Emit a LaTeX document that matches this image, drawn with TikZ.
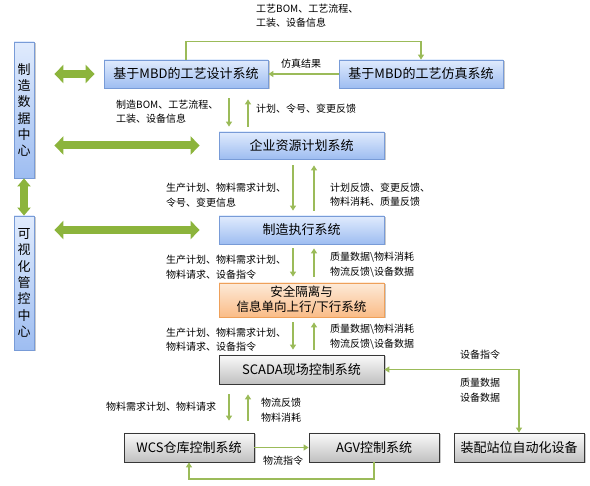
\documentclass[tikz,border=0pt]{standalone}
\usepackage{fontspec}
\setmainfont{Noto Sans CJK SC}
\usetikzlibrary{arrows.meta,shadows}
\definecolor{linegreen}{RGB}{155,187,89}
\definecolor{fatgreen}{RGB}{140,180,60}
\definecolor{bluetop}{RGB}{224,235,253}
\definecolor{bluebot}{RGB}{158,189,241}
\definecolor{blueedge}{RGB}{120,155,215}
\definecolor{orangetop}{RGB}{253,234,216}
\definecolor{orangebot}{RGB}{250,188,135}
\definecolor{orangeedge}{RGB}{238,160,90}
\definecolor{graytop}{RGB}{250,250,250}
\definecolor{graybot}{RGB}{192,192,192}
\definecolor{grayedge}{RGB}{55,55,55}
\tikzset{
  box/.style={line width=0.8pt, inner sep=0pt, align=center,
    font=\fontsize{13}{16}\selectfont,
    drop shadow={shadow xshift=1.5pt, shadow yshift=-1.5pt, opacity=0.35, fill=black!60}},
  bluebox/.style={box, draw=blueedge, top color=bluetop, bottom color=bluebot},
  orangebox/.style={box, draw=orangeedge, top color=orangetop, bottom color=orangebot},
  graybox/.style={box, draw=grayedge, top color=graytop, bottom color=graybot},
  lbl/.style={anchor=west, inner sep=0pt, align=left, font=\fontsize{10}{14.5}\selectfont},
  conn/.style={draw=linegreen, line width=1.8pt},
  fatH/.style={draw=fatgreen, line width=8pt,
    {Triangle[length=9pt,width=18pt]}-{Triangle[length=9pt,width=18pt]}},
  fatV/.style={draw=fatgreen, line width=8pt,
    {Triangle[length=8pt,width=13pt]}-{Triangle[length=8pt,width=13pt]}},
}
\begin{document}
\begin{tikzpicture}[x=1pt, y=-1pt, >={Triangle[width=6pt,length=5pt]}]
\useasboundingbox (0,0) rectangle (590,486);

% helper x positions
\coordinate (xa1) at (229,0);
\coordinate (xa2) at (248,0);
\coordinate (xb1) at (293,0);
\coordinate (xb2) at (314,0);

% boxes
\node[bluebox, minimum width=20pt, minimum height=136pt, font=\fontsize{13}{16.3}\selectfont] (dc) at (24,110) {制\\造\\数\\据\\中\\心};
\node[bluebox, minimum width=20pt, minimum height=134pt, font=\fontsize{13}{16.3}\selectfont] (vc) at (24,283) {可\\视\\化\\管\\控\\中\\心};
\node[bluebox, minimum width=164pt, minimum height=28pt] (design) at (186,74) {基于MBD的工艺设计系统};
\node[bluebox, minimum width=164pt, minimum height=28pt] (sim) at (421,74) {基于MBD的工艺仿真系统};
\node[bluebox, minimum width=165pt, minimum height=27pt] (erp) at (301.5,145.5) {企业资源计划系统};
\node[bluebox, minimum width=165pt, minimum height=28pt] (mes) at (301.5,230) {制造执行系统};
\node[orangebox, minimum width=165pt, minimum height=34pt, font=\fontsize{12.5}{15.5}\selectfont] (sec) at (301.5,300) {安全隔离与\\信息单向上行/下行系统};
\node[graybox, minimum width=165pt, minimum height=29pt] (scada) at (301.5,369.5) {SCADA现场控制系统};
\node[graybox, minimum width=130pt, minimum height=29pt] (wcs) at (189,447.5) {WCS仓库控制系统};
\node[graybox, minimum width=130pt, minimum height=29pt] (agv) at (374,447.5) {AGV控制系统};
\node[graybox, minimum width=130pt, minimum height=29pt] (equip) at (519,447.5) {装配站位自动化设备};

% fat double arrows
\draw[fatH, shorten <=20pt, shorten >=9pt] (dc.east |- design.west) -- (design.west);
\draw[fatH, shorten <=20pt, shorten >=19pt] (dc.east |- erp.west) -- (erp.west);
\draw[fatH, shorten <=20pt, shorten >=19pt] (vc.east |- mes.west) -- (mes.west);
\draw[fatV] (dc.south) -- (vc.north);

% design <-> sim
\draw[conn, ->] (design.north) -- ++(0,-18) -| (sim.north);
\draw[conn, ->] (sim.west) -- (design.east);

% design <-> erp
\draw[conn, ->, shorten <=10pt, shorten >=5pt] (design.south -| xa1) -- (erp.north -| xa1);
\draw[conn, ->, shorten <=5pt, shorten >=11pt] (erp.north -| xa2) -- (design.south -| xa2);
% erp <-> mes
\draw[conn, ->, shorten <=6pt, shorten >=5pt] (erp.south -| xb1) -- (mes.north -| xb1);
\draw[conn, ->, shorten <=5pt, shorten >=6pt] (mes.north -| xb2) -- (erp.south -| xb2);
% mes <-> sec
\draw[conn, ->, shorten <=4pt, shorten >=6pt] (mes.south -| xb1) -- (sec.north -| xb1);
\draw[conn, ->, shorten <=6pt, shorten >=4pt] (sec.north -| xb2) -- (mes.south -| xb2);
% sec <-> scada
\draw[conn, ->, shorten <=5pt, shorten >=5pt] (sec.south -| xb1) -- (scada.north -| xb1);
\draw[conn, ->, shorten <=5pt, shorten >=5pt] (scada.north -| xb2) -- (sec.south -| xb2);
% scada <-> wcs
\draw[conn, ->, shorten <=10pt, shorten >=12pt] (scada.south -| xa1) -- (wcs.north -| xa1);
\draw[conn, ->, shorten <=12pt, shorten >=10pt] (wcs.north -| xa2) -- (scada.south -| xa2);
% wcs <-> agv
\draw[conn, ->] (wcs.east) -- (agv.west);
\draw[conn, ->] (agv.south) -- ++(0,17) -| (wcs.south);
% equip <-> scada
\draw[conn, <->] (equip.north) |- (scada.east);

% labels
\node[lbl] (l1) at (256,15.5) {工艺BOM、工艺流程、\\工装、设备信息};
\node[lbl] (l2) at (281,64) {仿真结果};
\node[lbl] (l3) at (116,111.5) {制造BOM、工艺流程、\\工装、设备信息};
\node[lbl] (l4) at (256,109) {计划、令号、变更反馈};
\node[lbl] (l5) at (166,195) {生产计划、物料需求计划、\\令号、变更信息};
\node[lbl] (l6) at (330,194.5) {计划反馈、变更反馈、\\物料消耗、质量反馈};
\node[lbl] (l7) at (166,267) {生产计划、物料需求计划、\\物料请求、设备指令};
\node[lbl] (l8) at (330,264.5) {质量数据\textbackslash 物料消耗\\物流反馈\textbackslash 设备数据};
\node[lbl] (l9) at (166,339.5) {生产计划、物料需求计划、\\物料请求、设备指令};
\node[lbl] (l10) at (330,336.5) {质量数据\textbackslash 物料消耗\\物流反馈\textbackslash 设备数据};
\node[lbl] (l11) at (106,407) {物料需求计划、物料请求};
\node[lbl] (l12) at (261,410) {物流反馈\\物料消耗};
\node[lbl] (l13) at (263,461) {物流指令};
\node[lbl] (l14) at (460,355) {设备指令};
\node[lbl] (l15) at (460,390) {质量数据\\设备数据};
\end{tikzpicture}
\end{document}
